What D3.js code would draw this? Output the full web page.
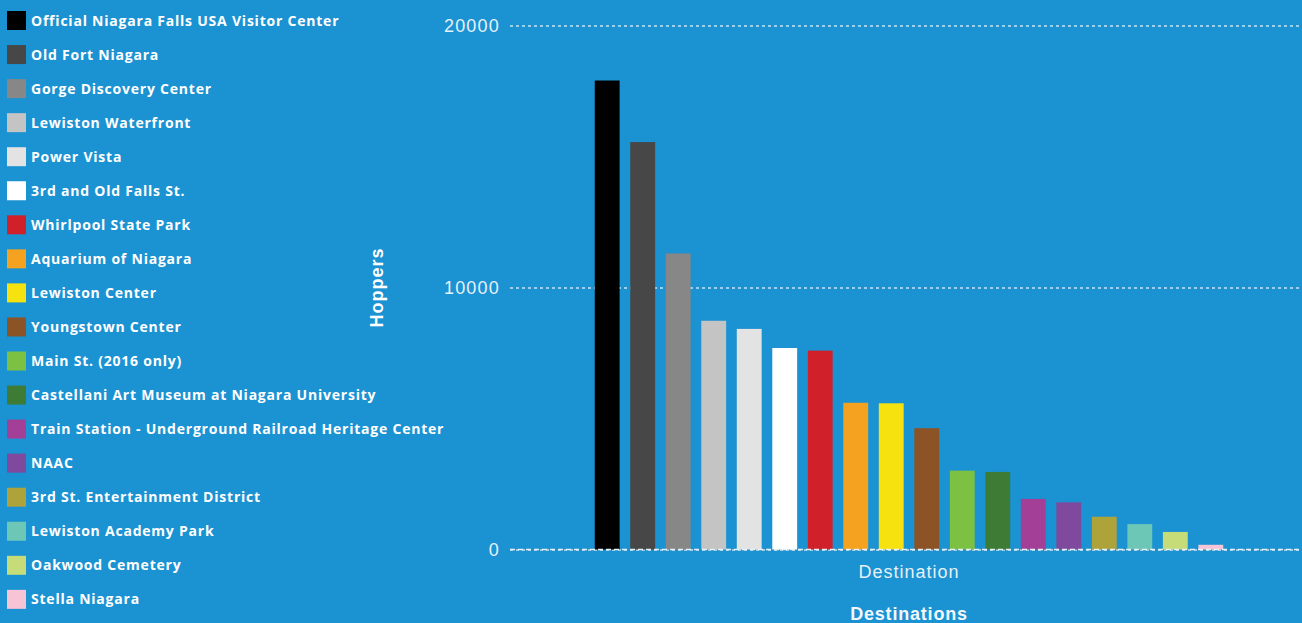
<!DOCTYPE html>
<html>
<head>
<meta charset="utf-8">
<script src="https://cdn.jsdelivr.net/npm/d3@7"></script>
<style>
  html, body { margin: 0; padding: 0; background: #1b92d2; overflow: hidden; }
</style>
</head>
<body>
<div id="chart"></div>
<script>
const destinations = [
  "Official Niagara Falls USA Visitor Center",
  "Old Fort Niagara",
  "Gorge Discovery Center",
  "Lewiston Waterfront",
  "Power Vista",
  "3rd and Old Falls St.",
  "Whirlpool State Park",
  "Aquarium of Niagara",
  "Lewiston Center",
  "Youngstown Center",
  "Main St. (2016 only)",
  "Castellani Art Museum at Niagara University",
  "Train Station - Underground Railroad Heritage Center",
  "NAAC",
  "3rd St. Entertainment District",
  "Lewiston Academy Park",
  "Oakwood Cemetery",
  "Stella Niagara"
];

const hoppers = [17900, 15550, 11300, 8730, 8420, 7690, 7590, 5600, 5580, 4630,
  3010, 2960, 1930, 1800, 1250, 970, 670, 180];

const colors = ["#000000", "#474747", "#878787", "#c4c4c4", "#e3e3e3", "#ffffff",
  "#d0202a", "#f4a21f", "#f6e20f", "#8b5326", "#7cc142", "#3e7b35",
  "#a43f98", "#7f4a9e", "#aea33a", "#6cc7b7", "#c5dc78", "#f6c4d5"];

const yTicks = [0, 10000, 20000];

const width = 1302;
const height = 623;

const svg = d3.select("#chart")
  .append("svg")
  .attr("width", width)
  .attr("height", height)
  .style("display", "block")
  .style("background", "#1b92d2");

// scales
const x = d3.scaleBand()
  .domain(destinations)
  .range([577, 1241])
  .paddingInner(0.3)
  .paddingOuter(0.5);

const y = d3.scaleLinear()
  .domain([0, 20000])
  .range([549.5, 25.5]);

const color = d3.scaleOrdinal().domain(destinations).range(colors);

// grid + ticks
const yAxis = svg.append("g")
  .attr("transform", "translate(510,0)")
  .call(d3.axisLeft(y).tickValues(yTicks).tickSize(-(width - 510)).tickPadding(10).tickFormat(d3.format("d")));

yAxis.select(".domain").remove();
yAxis.selectAll(".tick line")
  .attr("stroke", "#e6f1f8")
  .attr("stroke-opacity", 0.85)
  .attr("stroke-width", 1.3)
  .attr("stroke-dasharray", "3,3");
yAxis.selectAll(".tick text")
  .attr("fill", "#e6f1f8")
  .style("font", "18px 'Liberation Sans', Arial, sans-serif")
  .style("letter-spacing", "1.2px");

// bars
svg.append("g")
  .selectAll("rect")
  .data(hoppers)
  .join("rect")
  .attr("x", (d, i) => x(destinations[i]))
  .attr("y", (d) => y(d))
  .attr("width", x.bandwidth())
  .attr("height", (d) => y(0) - y(d))
  .attr("fill", (d, i) => color(destinations[i]));

// zero line drawn over bar bottoms
svg.append("line")
  .attr("x1", 510)
  .attr("x2", width)
  .attr("y1", y(0))
  .attr("y2", y(0))
  .attr("stroke", "#e6f1f8")
  .attr("stroke-width", 1.6)
  .attr("stroke-dasharray", "5,3");

// axis titles
svg.append("text")
  .attr("transform", `translate(383,${y(10000)}) rotate(-90)`)
  .attr("text-anchor", "middle")
  .attr("fill", "#ffffff")
  .style("font", "bold 18px 'Liberation Sans', Arial, sans-serif")
  .style("letter-spacing", "1px")
  .text("Hoppers");

const xMid = (x.range()[0] + x.range()[1]) / 2;

svg.append("text")
  .attr("x", xMid)
  .attr("y", 578)
  .attr("text-anchor", "middle")
  .attr("fill", "#e6f1f8")
  .style("font", "18px 'Liberation Sans', Arial, sans-serif")
  .style("letter-spacing", "1px")
  .text("Destination");

svg.append("text")
  .attr("x", xMid)
  .attr("y", 620)
  .attr("text-anchor", "middle")
  .attr("fill", "#f2f7fb")
  .style("font", "bold 18px 'Liberation Sans', Arial, sans-serif")
  .style("letter-spacing", "0.8px")
  .text("Destinations");

// legend
const legend = svg.append("g")
  .selectAll("g")
  .data(destinations)
  .join("g")
  .attr("transform", (d, i) => `translate(7,${11 + i * 34.05})`);

legend.append("rect")
  .attr("width", 19)
  .attr("height", 19)
  .attr("fill", (d) => color(d));

legend.append("text")
  .attr("x", 24)
  .attr("y", 14.5)
  .attr("fill", "#ffffff")
  .style("font", "bold 14px 'Open Sans', sans-serif")
  .style("letter-spacing", "0.78px")
  .text((d) => d);
</script>
</body>
</html>
